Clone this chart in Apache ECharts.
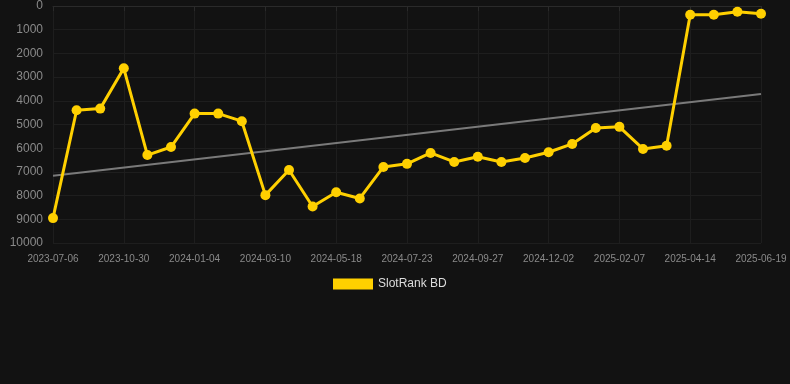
<!DOCTYPE html>
<html>
<head>
<meta charset="utf-8">
<style>
  html, body { margin: 0; padding: 0; background: #121212; }
  #chart { width: 790px; height: 384px; }
</style>
<script src="https://cdn.jsdelivr.net/npm/echarts@6/dist/echarts.min.js"></script>
</head>
<body>
<div id="chart"></div>
<script>
// dates (every 3rd one is shown on the axis)
const dates = [
    '2023-07-06', '2023-08-14', '2023-09-22', '2023-10-30', '2023-11-21', '2023-12-13',
    '2024-01-04', '2024-01-26', '2024-02-17', '2024-03-10', '2024-04-02', '2024-04-25',
    '2024-05-18', '2024-06-08', '2024-07-01', '2024-07-23', '2024-08-14', '2024-09-05',
    '2024-09-27', '2024-10-19', '2024-11-10', '2024-12-02', '2024-12-24', '2025-01-16',
    '2025-02-07', '2025-03-01', '2025-03-23', '2025-04-14', '2025-05-06', '2025-05-28',
    '2025-06-19'
];

// rank values
const rankValues = [
    8950, 4400, 4330, 2630, 6290, 5950,
    4540, 4540, 4860, 7980, 6920, 8460,
    7860, 8120, 6790, 6660, 6200, 6580,
    6360, 6580, 6410, 6170, 5820, 5150,
    5100, 6030, 5900, 370, 370, 240,
    330
];

// trend line ends (first and last date)
const trendEnds = [7160, 3710];

const trendData = dates.map((d, i) => {
    if (i === 0) return trendEnds[0];
    if (i === dates.length - 1) return trendEnds[1];
    return null;
});

const chart = echarts.init(document.getElementById('chart'), null, { renderer: 'canvas' });

const option = {
    backgroundColor: '#121212',
    animation: false,
    grid: {
        left: 53,
        right: 29,
        top: 6,
        bottom: 141
    },
    legend: {
        data: ['SlotRank BD'],
        top: 278,
        left: 333,
        itemWidth: 40,
        itemHeight: 11,
        itemGap: 10,
        padding: 0,
        icon: 'rect',
        textStyle: { color: '#dddddd', fontSize: 12, fontFamily: 'Liberation Sans, Arial, sans-serif' }
    },
    xAxis: {
        type: 'category',
        data: dates,
        boundaryGap: false,
        axisLine: { show: true, lineStyle: { color: '#2a2a2a' } },
        axisTick: { show: true, interval: 2, lineStyle: { color: '#2a2a2a' } },
        axisLabel: {
            interval: 2,
            color: '#8a8a8a',
            fontSize: 10,
            fontFamily: 'Liberation Sans, Arial, sans-serif',
            margin: 11
        },
        splitLine: { show: true, interval: 2, lineStyle: { color: '#1e1e1e' } }
    },
    yAxis: {
        type: 'value',
        inverse: true,
        min: 0,
        max: 10000,
        interval: 1000,
        axisLine: { show: false },
        axisTick: { show: false },
        axisLabel: {
            color: '#8a8a8a',
            fontSize: 12,
            fontFamily: 'Liberation Sans, Arial, sans-serif',
            margin: 10,
            formatter: v => String(v)
        },
        splitLine: { lineStyle: { color: '#1e1e1e' } }
    },
    series: [
        {
            name: 'trend',
            type: 'line',
            data: trendData,
            connectNulls: true,
            showSymbol: false,
            silent: true,
            z: 1,
            lineStyle: { color: '#7a7a7a', width: 2 },
            itemStyle: { color: '#7a7a7a' }
        },
        {
            name: 'SlotRank BD',
            type: 'line',
            data: rankValues,
            symbol: 'circle',
            symbolSize: 10,
            z: 3,
            lineStyle: { color: '#ffd000', width: 3 },
            itemStyle: { color: '#ffd000' }
        }
    ]
};

chart.setOption(option);
</script>
</body>
</html>
